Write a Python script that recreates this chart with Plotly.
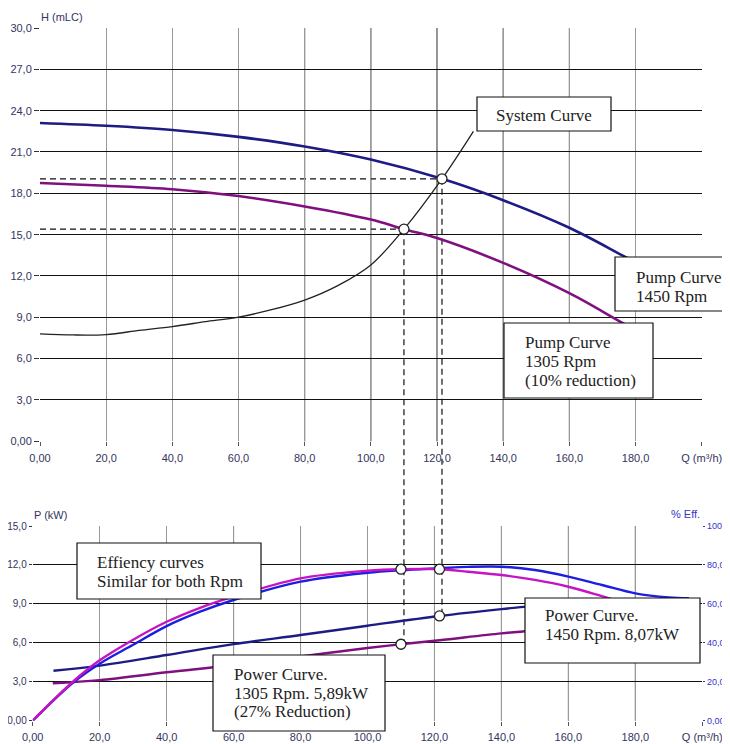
import plotly.graph_objects as go

W, H = 730, 744
OFF = 8  # page body margin of the browser

# ---------------- data ----------------
q_ticks = [0, 20, 40, 60, 80, 100, 120, 140, 160, 180, 200]
q_ticktext = ["0,00", "20,0", "40,0", "60,0", "80,0", "100,0", "120,0",
              "140,0", "160,0", "180,0", "Q (m³/h)"]
h_ticks = [0, 3, 6, 9, 12, 15, 18, 21, 24, 27, 30]
h_ticktext = ["0,00", "3,0", "6,0", "9,0", "12,0", "15,0", "18,0",
              "21,0", "24,0", "27,0", "30,0"]
p_ticks = [0, 3, 6, 9, 12, 15]
p_ticktext = ["0,00", "3,0", "6,0", "9,0", "12,0", "15,0"]
eff_ticks = [0, 20, 40, 60, 80, 100]
eff_ticktext = ["0,00", "20,0", "40,0", "60,0", "80,0", "100,0"]

pump1450_q = [0, 20, 40, 60, 80, 100, 121.5, 140, 160, 176, 180]
pump1450_h = [23.1, 22.9, 22.6, 22.1, 21.4, 20.45, 19.05, 17.5, 15.5, 13.5, 13.0]

pump1305_q = [0, 20, 40, 60, 80, 100, 110, 120, 140, 160, 176, 180]
pump1305_h = [18.75, 18.55, 18.3, 17.8, 17.05, 16.1, 15.4, 14.75, 12.95, 10.75, 8.6, 8.1]

system_q = [0, 10, 20, 30, 40, 50, 60, 70, 80, 90, 100, 110, 121.5, 131]
system_h = [7.8, 7.72, 7.75, 8.05, 8.33, 8.68, 9.02, 9.55, 10.25, 11.3, 12.8, 15.4, 19.05, 22.5]

eff1305_q = [0, 12, 20, 30, 40, 50, 60, 80, 100, 110, 121.5, 130, 140, 150, 160, 170, 175]
eff1305_e = [0, 20, 31.0, 41.6, 50.8, 58.0, 63.7, 73.1, 77.0, 77.8, 77.8, 76.5, 74.8, 72.3, 68.8, 64.0, 61.5]

eff1450_q = [0, 12, 20, 30, 40, 50, 60, 80, 100, 110, 121.5, 130, 140, 150, 160, 170, 180, 190, 196]
eff1450_e = [0, 19.5, 29.3, 39.0, 48.6, 56.0, 62.0, 71.4, 76.0, 77.3, 78.3, 79.0, 79.1, 77.4, 74.0, 69.7, 65.4, 63.3, 62.9]

power1450_q = [6.2, 20, 40, 60, 80, 100, 121.5, 140, 150]
power1450_p = [3.85, 4.24, 5.06, 5.9, 6.6, 7.32, 8.07, 8.6, 8.85]

power1305_q = [6, 20, 40, 60, 80, 100, 110, 121.5, 140, 150]
power1305_p = [2.88, 3.13, 3.73, 4.29, 4.95, 5.6, 5.89, 6.2, 6.73, 6.95]

op_q = [110, 121.5]
op_h = [15.4, 19.05]
op_eff = [77.8, 77.8]
op_p = [5.89, 8.07]

# ---------------- styles ----------------
NAVY = "#1c1c84"
PURPLE = "#80107f"
MAGENTA = "#c414c4"
BLUE = "#1e1ee0"
TICKC = "#34345e"
EFFC = "#3434c8"
NARROW = "Liberation Sans Narrow, Arial Narrow, Liberation Sans, Arial, sans-serif"
TICKFONT = dict(family=NARROW, size=11, color=TICKC)
SMALLTICK = dict(family=NARROW, size=10, color=TICKC)
SERIF = dict(family="Liberation Serif, Times New Roman, serif", size=17, color="#222222")


def fx(px):
    return (px - OFF) / W


def fy(py):
    return 1 - (py - OFF) / H


top_xd = [fx(40), fx(701.7)]
top_yd = [fy(441.3), fy(28)]
bot_xd = [fx(32.7), fx(702.3)]
bot_yd = [fy(720.7), fy(526)]

fig = go.Figure()

# top chart
fig.add_trace(go.Scatter(x=system_q, y=system_h, mode="lines", line=dict(color="#222", width=1.3, shape="spline"),
                         xaxis="x", yaxis="y", hoverinfo="skip"))
fig.add_trace(go.Scatter(x=pump1450_q, y=pump1450_h, mode="lines", line=dict(color=NAVY, width=2.6, shape="spline"),
                         xaxis="x", yaxis="y"))
fig.add_trace(go.Scatter(x=pump1305_q, y=pump1305_h, mode="lines", line=dict(color=PURPLE, width=2.6, shape="spline"),
                         xaxis="x", yaxis="y"))
fig.add_trace(go.Scatter(x=op_q, y=op_h, mode="markers",
                         marker=dict(symbol="circle", size=10, color="white", line=dict(color="#222", width=1.3)),
                         xaxis="x", yaxis="y", cliponaxis=False))

# bottom chart
fig.add_trace(go.Scatter(x=power1305_q, y=power1305_p, mode="lines", line=dict(color=PURPLE, width=2.4, shape="spline"),
                         xaxis="x2", yaxis="y2"))
fig.add_trace(go.Scatter(x=power1450_q, y=power1450_p, mode="lines", line=dict(color=NAVY, width=2.4, shape="spline"),
                         xaxis="x2", yaxis="y2"))
fig.add_trace(go.Scatter(x=eff1450_q, y=eff1450_e, mode="lines", line=dict(color=BLUE, width=2.4, shape="spline"),
                         xaxis="x2", yaxis="y3"))
fig.add_trace(go.Scatter(x=eff1305_q, y=eff1305_e, mode="lines", line=dict(color=MAGENTA, width=2.4, shape="spline"),
                         xaxis="x2", yaxis="y3"))
fig.add_trace(go.Scatter(x=op_q, y=op_eff, mode="markers",
                         marker=dict(symbol="circle", size=10, color="white", line=dict(color="#222", width=1.3)),
                         xaxis="x2", yaxis="y3", cliponaxis=False))
fig.add_trace(go.Scatter(x=op_q, y=op_p, mode="markers",
                         marker=dict(symbol="circle", size=10, color="white", line=dict(color="#222", width=1.3)),
                         xaxis="x2", yaxis="y2", cliponaxis=False))

shapes = []
# darker vertical grid lines (some are drawn darker in the original)
top_dark = [80, 100, 120, 140, 160]
bot_dark = [60, 80, 100, 120, 140, 160, 180]
for q in top_dark:
    shapes.append(dict(type="line", xref="x", yref="y domain", x0=q, x1=q, y0=0, y1=1,
                       line=dict(color="#222", width=1), layer="below"))
for q in bot_dark:
    shapes.append(dict(type="line", xref="x2", yref="y2 domain", x0=q, x1=q, y0=0, y1=1,
                       line=dict(color="#333", width=1), layer="below"))

# dashed guide lines
DASH = "6px,4px"
for q, h in zip(op_q, op_h):
    shapes.append(dict(type="line", xref="x", yref="y", x0=0, x1=q, y0=h, y1=h,
                       line=dict(color="#111", width=1.2, dash=DASH), layer="below"))


def top_paper(h):
    return top_yd[0] + (h - 0) / 30 * (top_yd[1] - top_yd[0])


def bot_paper(p):
    return bot_yd[0] + (p - 0) / 15 * (bot_yd[1] - bot_yd[0])


for q, h, p in zip(op_q, op_h, op_p):
    shapes.append(dict(type="line", xref="x", yref="paper", x0=q, x1=q, y0=top_paper(h), y1=bot_paper(p),
                       line=dict(color="#111", width=1.2, dash=DASH), layer="below"))

# label boxes (pixel boxes of the original)
boxes = [
    (477, 97, 611, 131),
    (615, 257, 745, 311),
    (504, 323, 653, 398),
    (77, 543, 261, 599),
    (213, 655, 385, 731),
    (525, 598, 700, 663),
]
for x0, y0, x1, y1 in boxes:
    shapes.append(dict(type="rect", xref="paper", yref="paper", x0=fx(x0), x1=fx(x1), y0=fy(y0), y1=fy(y1),
                       fillcolor="white", line=dict(color="#111", width=1.2), layer="above"))

annotations = []
# text lines: (text, left px, baseline px)
lines = [
    ("Pump Curve", 634, 283.5), ("1450 Rpm", 634, 302),
    ("Pump Curve", 523, 348.5), ("1305 Rpm", 523, 367.5), ("(10% reduction)", 523, 386.5),
    ("Effiency curves", 95, 568.5), ("Similar for both Rpm", 95, 587.5),
    ("Power Curve.", 232, 680), ("1305 Rpm. 5,89kW", 232, 699), ("(27% Reduction)", 232, 717.5),
    ("Power Curve.", 543, 621.5), ("1450 Rpm. 8,07kW", 543, 640.5),
]
for t, lx, bl in lines:
    annotations.append(dict(text=t, xref="paper", yref="paper", x=fx(lx), y=fy(bl - 5.7),
                            xanchor="left", yanchor="middle", showarrow=False, font=SERIF))
annotations.append(dict(text="System Curve", xref="paper", yref="paper", x=fx(544), y=fy(121.5 - 5.7),
                        xanchor="center", yanchor="middle", showarrow=False, font=SERIF))
# axis captions
annotations.append(dict(text="H (mLC)", xref="paper", yref="paper", x=fx(39), y=fy(17),
                        xanchor="left", yanchor="middle", showarrow=False, font=TICKFONT))
annotations.append(dict(text="P (kW)", xref="paper", yref="paper", x=fx(32), y=fy(515),
                        xanchor="left", yanchor="middle", showarrow=False, font=TICKFONT))
annotations.append(dict(text="% Eff.", xref="paper", yref="paper", x=fx(702), y=fy(514),
                        xanchor="right", yanchor="middle", showarrow=False,
                        font=dict(family=NARROW, size=11, color=EFFC)))

common_x = dict(range=[0, 200], tickmode="array", tickvals=q_ticks, ticktext=q_ticktext,
                showgrid=True, gridcolor="#999", gridwidth=1, zeroline=False, showline=False,
                ticks="outside", ticklen=4, tickcolor="#555", tickfont=TICKFONT, fixedrange=True,
                automargin=False, ticklabelstandoff=2)

fig.update_layout(
    width=W, height=H,
    margin=dict(l=0, r=0, t=0, b=0, autoexpand=False),
    paper_bgcolor="white", plot_bgcolor="rgba(0,0,0,0)",
    showlegend=False,
    xaxis=dict(domain=top_xd, anchor="y", **common_x),
    yaxis=dict(domain=top_yd, anchor="x", range=[0, 30], tickmode="array", tickvals=h_ticks, ticktext=h_ticktext,
               showgrid=True, gridcolor="#111", zeroline=False, showline=False, ticks="outside", ticklen=5,
               tickcolor="#333", tickfont=TICKFONT, fixedrange=True, automargin=False),
    xaxis2=dict(domain=bot_xd, anchor="y2", **common_x),
    yaxis2=dict(domain=bot_yd, anchor="x2", range=[0, 15], tickmode="array", tickvals=p_ticks, ticktext=p_ticktext,
                showgrid=True, gridcolor="#111", zeroline=False, showline=False, ticks="outside", ticklen=3,
                tickcolor="#333", tickfont=SMALLTICK, fixedrange=True, automargin=False),
    yaxis3=dict(overlaying="y2", anchor="x2", side="right", range=[0, 100], tickmode="array", tickvals=eff_ticks,
                ticktext=eff_ticktext, showgrid=False, zeroline=False, showline=False, ticks="outside", ticklen=2,
                tickcolor=EFFC, tickfont=dict(family=NARROW, size=9, color=EFFC),
                fixedrange=True, automargin=False),
    shapes=shapes,
    annotations=annotations,
)

fig.write_html("out.html")
